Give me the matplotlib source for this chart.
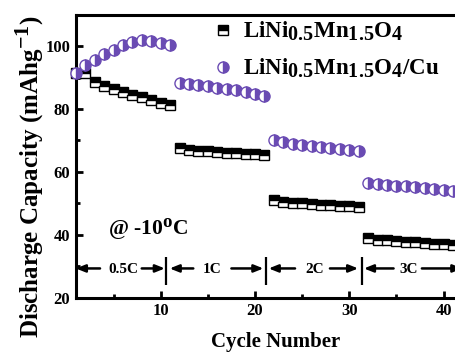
import matplotlib
matplotlib.use("Agg")
import matplotlib.pyplot as plt
from matplotlib.ticker import MultipleLocator
import matplotlib._mathtext as _mt

_mt.SHRINK_FACTOR = 0.88

plt.rcParams['font.family'] = ['Liberation Serif', 'DejaVu Serif']
plt.rcParams['font.weight'] = 'bold'
plt.rcParams['mathtext.fontset'] = 'custom'
plt.rcParams['mathtext.rm'] = 'Liberation Serif:bold'
plt.rcParams['mathtext.it'] = 'Liberation Serif:bold'
plt.rcParams['mathtext.bf'] = 'Liberation Serif:bold'
plt.rcParams['mathtext.default'] = 'rm'

# ---- data ----
cycles = list(range(1, 42))
lnmo = [91.5, 91.4, 88.5, 87.4, 86.5, 85.5, 84.6, 83.7, 82.8, 82.0, 81.2,
        67.6, 67.0, 66.7, 66.5, 66.3, 66.1, 66.0, 65.8, 65.6, 65.4,
        51.0, 50.5, 50.2, 50.0, 49.8, 49.6, 49.4, 49.3, 49.2, 49.0,
        38.9, 38.4, 38.2, 38.0, 37.8, 37.6, 37.4, 37.2, 37.0, 36.8]
lnmo_cu = [91.5, 94.1, 95.7, 97.6, 98.9, 100.3, 101.2, 102.1, 101.5, 101.0, 100.5,
           88.4, 88.1, 87.8, 87.3, 86.8, 86.4, 85.9, 85.3, 84.8, 84.0,
           70.2, 69.5, 69.0, 68.6, 68.1, 67.8, 67.6, 67.4, 67.0, 66.6,
           56.4, 56.2, 55.9, 55.6, 55.4, 55.2, 54.8, 54.5, 54.3, 53.9]
rate_labels = ['0.5C', '1C', '2C', '3C']
label_names = [r'LiNi$_{0.5}$Mn$_{1.5}$O$_4$', r'LiNi$_{0.5}$Mn$_{1.5}$O$_4$/Cu']

purple = '#6A4BB3'

fig = plt.figure(figsize=(4.55, 3.52), dpi=100)
ax = fig.add_axes([0.1666, 0.1543, 0.8497, 0.8039])

ax.plot(cycles, lnmo, linestyle='none', marker='s', ms=7.5, fillstyle='top',
        markerfacecolor='black', markerfacecoloralt='white', markeredgecolor='black',
        mew=1.0, label=label_names[0], clip_on=False, zorder=3)
ax.plot(cycles, lnmo_cu, linestyle='none', marker='o', ms=8, fillstyle='right',
        markerfacecolor=purple, markerfacecoloralt='white', markeredgecolor=purple,
        mew=1.0, label=label_names[1], clip_on=False, zorder=4)

ax.set_xlim(1, 42)
ax.set_ylim(20, 110)
ax.set_xticks([10, 20, 30, 40])
ax.set_yticks([20, 40, 60, 80, 100])
ax.xaxis.set_minor_locator(MultipleLocator(5))
ax.yaxis.set_minor_locator(MultipleLocator(10))
ax.tick_params(which='major', direction='in', length=5, width=2, labelsize=12, pad=4)
ax.tick_params(which='minor', direction='in', length=3, width=2)
for lab in ax.get_xticklabels() + ax.get_yticklabels():
    lab.set_fontweight('bold')
for s in ax.spines.values():
    s.set_linewidth(2.2)

fig.text(30 / 455, 1 - 177 / 352, r'Discharge Capacity (mAhg$^{-1}$)', rotation=90,
         ha='center', va='center', fontsize=18, fontweight='bold')
fig.text(275.5 / 455, 1 - 342 / 352, 'Cycle Number', ha='center', va='center',
         fontsize=15, fontweight='bold')

ax.text(4.4, 40, r'@ -10$^{\mathrm{o}}$C', fontsize=15.5, fontweight='bold',
        ha='left', va='baseline')

# rate annotations
dividers = [10.6, 21.2, 31.3]
ax.vlines(dividers, 24.1, 32.9, color='black', lw=1.6)
segs = [(1.0, 3.57, 7.99, 10.45, 6.0),
        (10.95, 13.46, 17.5, 20.9, 15.5),
        (21.45, 24.25, 27.95, 30.95, 26.3),
        (31.55, 34.7, 37.7, 42.0, 36.3)]
ay = 29.3
for (tipL, fromL, fromR, tipR, cx), lab in zip(segs, rate_labels):
    ap = dict(arrowstyle='-|>,head_length=0.55,head_width=0.22', lw=1.8,
              color='black', shrinkA=0, shrinkB=0)
    ax.annotate('', xy=(tipL, ay), xytext=(fromL, ay), arrowprops=ap)
    ax.annotate('', xy=(tipR, ay), xytext=(fromR, ay), arrowprops=ap,
                annotation_clip=False)
    ax.text(cx, 28.9, lab, ha='center', va='center', fontsize=11, fontweight='bold')

leg = ax.legend(loc='upper left', bbox_to_anchor=(213 / 455, 1 - 20 / 352),
                bbox_transform=fig.transFigure, frameon=False, fontsize=16.5,
                handlelength=0.85, handletextpad=0.45, labelspacing=0.6,
                numpoints=1, borderaxespad=0, borderpad=0)

fig.savefig('out.png', dpi=100)
